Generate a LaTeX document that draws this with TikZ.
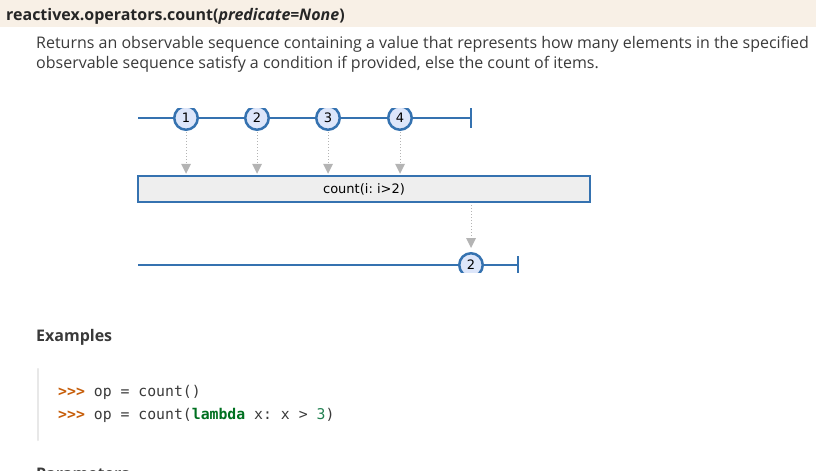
\documentclass[tikz,border=0pt]{standalone}
\usepackage{fontspec}
\setmainfont{Open Sans}
\newfontfamily\marblefont{DejaVu Sans}
\newfontfamily\codefont{DejaVu Sans Mono}
\usetikzlibrary{arrows.meta}
\definecolor{hdrbg}{RGB}{248,240,230}
\definecolor{txt}{RGB}{58,58,58}
\definecolor{mblue}{RGB}{53,114,176}
\definecolor{mfill}{RGB}{221,230,250}
\definecolor{mgray}{RGB}{180,180,180}
\definecolor{boxfill}{RGB}{238,238,238}
\definecolor{prompt}{RGB}{198,93,9}
\definecolor{kw}{RGB}{0,112,32}
\definecolor{num}{RGB}{32,128,80}
\definecolor{codebar}{RGB}{232,232,232}
\tikzset{
  para/.style={anchor=base west, inner sep=0pt, text=txt, font=\fontsize{16}{19}\selectfont},
  mline/.style={draw=mblue, line width=2.5pt},
  marble/.style={circle, draw=mblue, fill=mfill, line width=2.5pt, minimum size=23.5pt, inner sep=0pt, font=\marblefont\fontsize{13}{15}\selectfont},
  opbox/.style={draw=mblue, fill=boxfill, line width=2.5pt, minimum width=452pt, minimum height=26pt, inner sep=0pt, font=\marblefont\fontsize{13}{15}\selectfont},
  marrow/.style={draw=mgray, line width=1pt, dotted, -{Triangle[length=10pt,width=10pt,fill=mgray,line width=0pt]}, shorten >=1pt},
  codeline/.style={anchor=base west, inner sep=0pt, text=txt, font=\codefont\fontsize{14.8}{17}\selectfont},
}
\begin{document}
\frenchspacing
\begin{tikzpicture}[x=1pt,y=-1pt]
\useasboundingbox (0,0) rectangle (838,471);
% header band
\fill[hdrbg] (0,0) rectangle (816,27);
\node[anchor=base west, inner sep=0pt, text=black!85, font=\bfseries\fontsize{16}{19}\selectfont] (hdr) at (6,20) {reactivex.operators.count(\textit{predicate=None})};
\node[para] (d1) at (36,48) {Returns an observable sequence containing a value that represents how many elements in the specified};
\node[para] (d2) at (36,68) {observable sequence satisfy a condition if provided, else the count of items.};
% marble diagram
\begin{scope}
\clip (100,108) rectangle (640,272);
\draw[mline] (138,118) -- (471,118);
\draw[mline] (471,108) -- (471,128);
\node[marble] (c1) at (186,118) {1};
\node[marble] (c2) at (257,118) {2};
\node[marble] (c3) at (328,118) {3};
\node[marble] (c4) at (400,118) {4};
\node[opbox] (box) at (364,189) {count(i: i>2)};
\foreach \c in {c1,c2,c3,c4} \draw[marrow, shorten <=1pt] (\c.south) -- (\c |- box.north);
\draw[mline] (138,265) -- (518,265);
\draw[mline] (518,256) -- (518,276);
\node[marble] (o1) at (471,265) {2};
\draw[marrow, shorten <=2pt, shorten >=4pt] (box.south -| o1) -- (o1.north);
\end{scope}
% examples
\node[anchor=base west, inner sep=0pt, text=txt, font=\bfseries\fontsize{16}{19}\selectfont] (ex) at (36,341) {Examples};
\draw[codebar, line width=2.5pt, line cap=round] (38,369) -- (38,440);
\node[codeline] (l1) at (58,396) {\textcolor{prompt}{\bfseries>{}>{}>} op = count()};
\node[codeline] (l2) at (58,419) {\textcolor{prompt}{\bfseries>{}>{}>} op = count(\textcolor{kw}{\bfseries lambda} x: x > \textcolor{num}{3})};
\node[anchor=base west, inner sep=0pt, text=txt, font=\bfseries\fontsize{16}{19}\selectfont] (par) at (36,479) {Parameters};
\end{tikzpicture}
\end{document}
